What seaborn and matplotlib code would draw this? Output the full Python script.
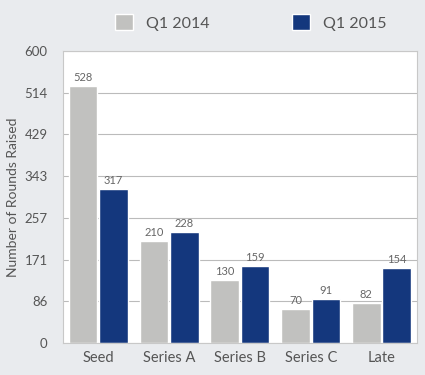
import numpy as np
import pandas as pd
import matplotlib
matplotlib.use("Agg")
import matplotlib.pyplot as plt
import seaborn as sns
from matplotlib.patches import Patch

stages = ["Seed", "Series A", "Series B", "Series C", "Late"]
q1_2014 = [528, 210, 130, 70, 82]
q1_2015 = [317, 228, 159, 91, 154]
series = ["Q1 2014", "Q1 2015"]
yticks = [0, 86, 171, 257, 343, 429, 514, 600]

df = pd.DataFrame({"stage": stages * 2,
                   "rounds": q1_2014 + q1_2015,
                   "quarter": [series[0]] * 5 + [series[1]] * 5})

sns.set_theme(style="white")
plt.rcParams["font.family"] = ["Lato", "DejaVu Sans"]
TXT = "#555555"
palette = {"Q1 2014": "#c1c1bf", "Q1 2015": "#14377d"}

fig = plt.figure(figsize=(4.25, 3.75), dpi=100, facecolor="#e9ebee")
ax = fig.add_axes([0.148, 0.085, 0.833, 0.779])
sns.barplot(data=df, x="stage", y="rounds", hue="quarter", palette=palette,
            width=0.86, gap=0.06, ax=ax, legend=False, saturation=1)

ax.set_ylim(0, 600)
ax.set_yticks([i * 600 / 7 for i in range(8)])
ax.set_yticklabels([str(t) for t in yticks], color=TXT, fontsize=9.5)
ax.tick_params(axis="x", colors=TXT, labelsize=10.5, length=0, pad=6)
ax.tick_params(axis="y", length=0, pad=11)
ax.yaxis.grid(True, color="#bbbbbb", lw=0.8)
ax.set_axisbelow(True)
ax.set_xlabel("")
ax.set_ylabel("Number of Rounds Raised", color=TXT, fontsize=10, labelpad=4)
for s in ax.spines.values():
    s.set_color("#c8c8c8")
    s.set_linewidth(0.8)

for c in ax.containers:
    ax.bar_label(c, color="#666666", fontsize=8, padding=2)

handles = [Patch(facecolor=palette[s], label=s) for s in series]
fig.legend(handles=handles, loc="center", bbox_to_anchor=(0.59, 0.94), ncol=2,
           frameon=False, columnspacing=5.2, handlelength=1.1, handleheight=1.1,
           handletextpad=0.8, prop={"size": 11.5, "family": ["Lato", "DejaVu Sans"]},
           labelcolor=TXT)

fig.savefig("out.png", dpi=100, facecolor=fig.get_facecolor())
